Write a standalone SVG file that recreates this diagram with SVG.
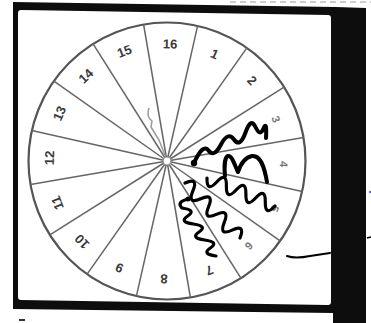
<svg xmlns="http://www.w3.org/2000/svg" width="371" height="323" viewBox="0 0 371 323">
<style>
.frame{fill:#0d0d0d}
.card{fill:#fff}
.rim{fill:none;stroke:#555;stroke-width:2.2}
.spoke{stroke:#666;stroke-width:1.5}
.num{font-family:"Liberation Sans",Arial,sans-serif;font-size:13px;font-weight:bold;fill:#3a3a3a;text-anchor:middle;dominant-baseline:central}
.faint{fill:#777;font-size:11px}
.ink{fill:none;stroke:#000;stroke-width:3.2;stroke-linecap:round;stroke-linejoin:round}
.pen{fill:none;stroke:#000;stroke-width:2;stroke-linecap:round}
</style>
<rect width="371" height="323" fill="#fff"/>
<path class="frame" d="M13,2 L336,7 L366,8 L366,323 L333,323 L333,313 L13,309 Z"/>
<path class="card" d="M18,13 Q18,10 21,10 L328,15 Q331,15 331,18 L331,302 Q331,305 328,305 L21,300 Q18,300 18,297 Z"/>
<line x1="230" y1="2" x2="371" y2="2" stroke="#ccc" stroke-width="2" stroke-dasharray="6 4"/>
<g id="wheel">
<circle class="rim" cx="167" cy="161" r="138.5"/>
<g id="spokes">
<line class="spoke" x1="167" y1="161" x2="197.6" y2="25.9"/>
<line class="spoke" x1="167" y1="161" x2="246.9" y2="47.9"/>
<line class="spoke" x1="167" y1="161" x2="284.1" y2="87.1"/>
<line class="spoke" x1="167" y1="161" x2="303.5" y2="137.6"/>
<line class="spoke" x1="167" y1="161" x2="302.1" y2="191.6"/>
<line class="spoke" x1="167" y1="161" x2="280.1" y2="240.9"/>
<line class="spoke" x1="167" y1="161" x2="240.9" y2="278.1"/>
<line class="spoke" x1="167" y1="161" x2="190.4" y2="297.5"/>
<line class="spoke" x1="167" y1="161" x2="136.4" y2="296.1"/>
<line class="spoke" x1="167" y1="161" x2="87.1" y2="274.1"/>
<line class="spoke" x1="167" y1="161" x2="49.9" y2="234.9"/>
<line class="spoke" x1="167" y1="161" x2="30.5" y2="184.4"/>
<line class="spoke" x1="167" y1="161" x2="31.9" y2="130.4"/>
<line class="spoke" x1="167" y1="161" x2="53.9" y2="81.1"/>
<line class="spoke" x1="167" y1="161" x2="93.1" y2="43.9"/>
<line class="spoke" x1="167" y1="161" x2="143.6" y2="24.5"/>
</g>
<path d="M149,108 Q146,117 152,121 L151,127 L159,140 L165,155" fill="none" stroke="#999" stroke-width="1.5"/>
<circle cx="167" cy="161" r="4" fill="#fff" stroke="#888" stroke-width="1.2"/>
<g id="labels">
<text class="num" transform="translate(170.1,44) rotate(1.5)">16</text>
<text class="num" transform="translate(214.6,54.1) rotate(24)">1</text>
<text class="num" transform="translate(251.9,80.5) rotate(46.5)">2</text>
<text class="num faint" transform="translate(276.2,119.1) rotate(69)">3</text>
<text class="num faint" transform="translate(284,164.1) rotate(91.5)">4</text>
<text class="num faint" transform="translate(275,208.6) rotate(114)">5</text>
<text class="num faint" transform="translate(249,245.9) rotate(136.5)">6</text>
<text class="num" transform="translate(209.5,270.2) rotate(159)">7</text>
<text class="num" transform="translate(164,279) rotate(181.5)">8</text>
<text class="num" transform="translate(119.4,267.9) rotate(204)">9</text>
<text class="num" transform="translate(82.1,241.5) rotate(226.5)">10</text>
<text class="num" transform="translate(57.3,202.9) rotate(249)">11</text>
<text class="num" transform="translate(49.5,157.9) rotate(271.5)">12</text>
<text class="num" transform="translate(59.5,113.4) rotate(294)">13</text>
<text class="num" transform="translate(86,76.1) rotate(316.5)">14</text>
<text class="num" transform="translate(124.5,51.3) rotate(339)">15</text>
</g>
</g>
<g id="scribbles">
<path class="ink" style="stroke-width:4" d="M194,163 Q203,143 208.5,150.5 Q214,158 221,144.5 Q228,131 234,139.5 Q240,148 245.5,132.5 Q251,117 255.5,127 Q260,137 263.5,128.5 Q267,120 266,138"/>
<circle cx="194" cy="163" r="3.2" fill="#000"/>
<path class="ink" style="stroke-width:4" d="M225,176 C224,166 225,157 228,156 C232,155 235,166 238,172 C241,163 246,157 252,156 C260,155 264,165 267,182"/>
<path class="ink" d="M207,178 Q206.6,193 216.7,182 T226.4,186 T236.1,190 T245.9,194 T255.6,198 T265.3,202 T275,206"/>
<path class="ink" d="M185,183 Q198.8,177 192.9,190.9 T200.7,198.7 T208.6,206.6 T216.4,214.4 T224.3,222.3 T232.1,230.1 T240,238"/>
<path class="ink" d="M188,199 Q176,202 182,208 Q196.8,210 187.7,216 T193.3,224 T199,232 T204.7,240 T210.3,248 T216,256"/>
<circle cx="188" cy="199" r="2.5" fill="#000"/>
<path class="pen" d="M287,256 Q295,259 310,256 L330,253"/>
<line x1="367" y1="238" x2="371" y2="237" stroke="#000" stroke-width="1.5"/>
<circle cx="370" cy="192" r="1" fill="#33f"/>
<line x1="19" y1="320" x2="25" y2="320" stroke="#333" stroke-width="2"/>
</g>
</svg>
